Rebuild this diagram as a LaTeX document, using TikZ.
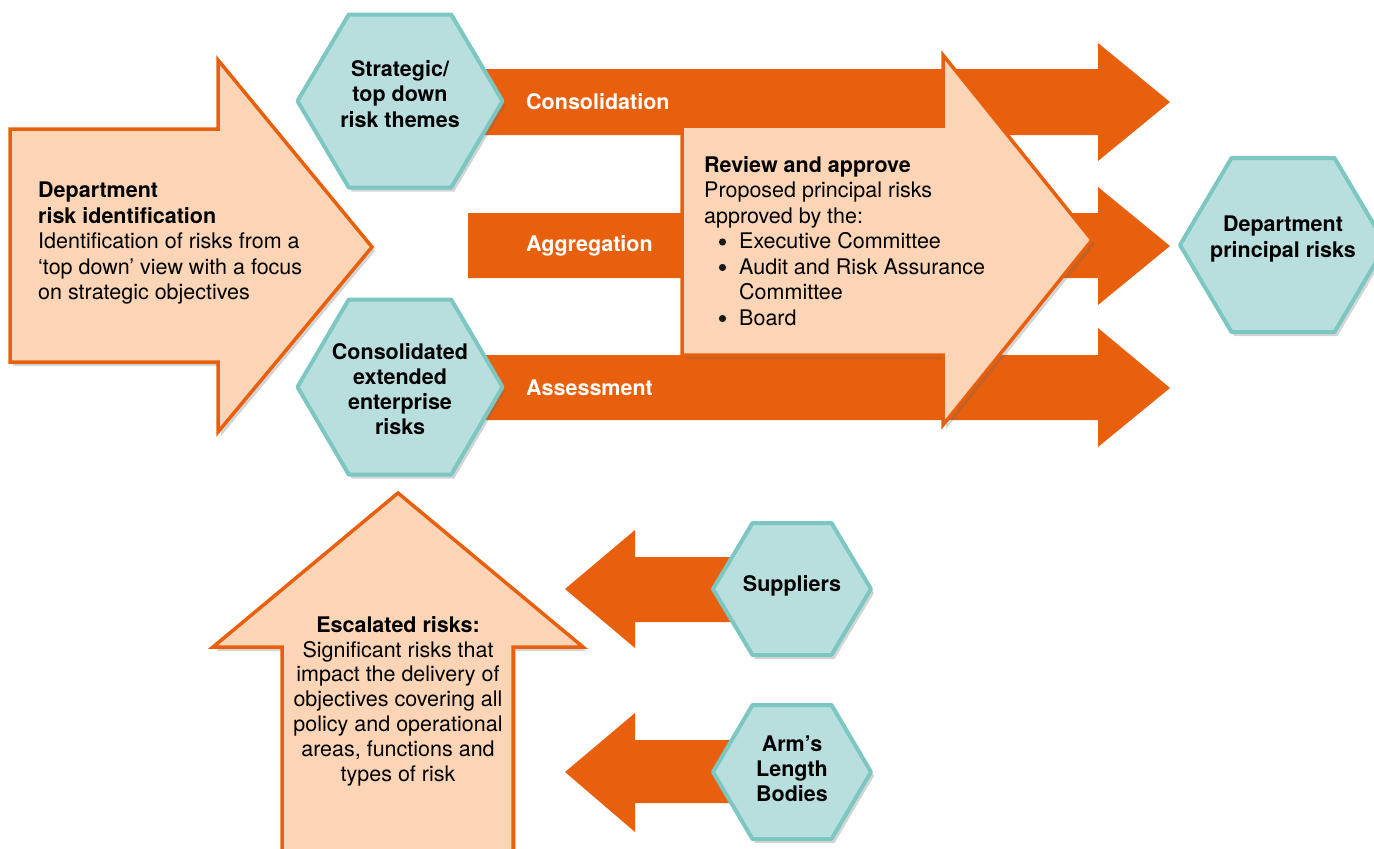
\documentclass[tikz,border=0pt]{standalone}
\usepackage{fontspec}
\setmainfont{TeX Gyre Heros}
\usetikzlibrary{shadows}
\definecolor{orng}{HTML}{E8600E}
\definecolor{peach}{HTML}{FBD5B5}
\definecolor{tealfill}{HTML}{B8DFDE}
\definecolor{tealline}{HTML}{7CC7C1}
\tikzset{
  shade2/.style={drop shadow={opacity=0.28, shadow xshift=3pt, shadow yshift=-4pt, fill=black!60}},
  band/.style={fill=orng, draw=none},
  bigarrow/.style={fill=peach, draw=orng, line width=3.5pt, line join=miter, shade2},
  hexa/.style={fill=tealfill, draw=tealline, line width=4pt, line join=round, shade2},
  txt/.style={font=\fontsize{21.5}{25.5}\selectfont, inner sep=0pt},
  hextxt/.style={txt, font=\fontsize{21.5}{25.2}\selectfont\bfseries, align=center},
  bandtxt/.style={txt, font=\fontsize{21.5}{25}\selectfont\bfseries, text=white, anchor=west},
  dot/.style={fill=black!90, draw=none},
}
\newcommand\myhex[4]{% cx cy w h
  (#1-#3/2,#2) -- (#1-#3/4,#2-#4/2) -- (#1+#3/4,#2-#4/2) -- (#1+#3/2,#2) -- (#1+#3/4,#2+#4/2) -- (#1-#3/4,#2+#4/2) -- cycle}
\begin{document}
\begin{tikzpicture}[x=1pt,y=-1pt]
\useasboundingbox (0,0) rectangle (1374,849);

% horizontal bands
\path[band] (485,69) -- (1098,69) -- (1098,43) -- (1170,102) -- (1098,161) -- (1098,135) -- (485,135) -- cycle;
\path[band] (468,213) -- (1098,213) -- (1098,187) -- (1170,246) -- (1098,305) -- (1098,278) -- (468,278) -- cycle;
\path[band] (485,355) -- (1098,355) -- (1098,328) -- (1170,388) -- (1098,447) -- (1098,420) -- (485,420) -- cycle;
\node[bandtxt] (cons) at (526,102) {Consolidation};
\node[bandtxt] (aggr) at (526,246) {Aggregation};
\node[bandtxt] (asse) at (526,388) {Assessment};

% hexagons on the left of bands
\path[hexa] \myhex{400}{101}{205}{173};
\node[hextxt] (strat) at (400,94) {Strategic/\\top down\\risk themes};
\path[hexa] \myhex{400}{387}{205}{175};
\node[hextxt] (ext) at (400,389) {Consolidated\\extended\\enterprise\\risks};

% review arrow
\path[bigarrow] (682,126) -- (943,126) -- (943,55) -- (1092,240) -- (943,425) -- (943,355) -- (682,355) -- cycle;
\node[txt, anchor=north west, align=left] (review) at (704,156)
  {{\bfseries Review and approve}\\
   Proposed principal risks\\
   approved by the:\\
   \hspace*{35pt}Executive Committee\\
   \hspace*{35pt}Audit and Risk Assurance\\
   \hspace*{35pt}Committee\\
   \hspace*{35pt}Board};
\fill[dot] (722.5,242) circle (3.6);
\fill[dot] (722.5,267.5) circle (3.6);
\fill[dot] (722.5,318.5) circle (3.6);

% principal risks hexagon
\path[hexa] \myhex{1283}{245}{206}{174};
\node[hextxt] (princ) at (1283,239) {Department\\principal risks};

% left arrow
\path[bigarrow] (10,129) -- (218,129) -- (218,60) -- (372,247) -- (218,432) -- (218,362) -- (10,362) -- cycle;
\node[txt, anchor=north west, align=left] (ident) at (38,182)
  {{\bfseries Department}\\
   {\bfseries risk identification}\\
   Identification of risks from a\\
   `top down' view with a focus\\
   on strategic objectives};

% escalated up arrow
\path[bigarrow] (282,880) -- (282,647) -- (213,647) -- (398,493) -- (583,647) -- (513,647) -- (513,880) -- cycle;
\node[txt, align=center, font=\fontsize{21.5}{24.8}\selectfont] (esc) at (398,701)
  {{\bfseries Escalated risks:}\\
   Significant risks that\\
   impact the delivery of\\
   objectives covering all\\
   policy and operational\\
   areas, functions and\\
   types of risk};

% left-pointing arrows
\path[band] (745,557) -- (635,557) -- (635,530) -- (565,589) -- (635,648) -- (635,622) -- (745,622) -- cycle;
\path[band] (745,740) -- (635,740) -- (635,713) -- (565,772) -- (635,832) -- (635,803) -- (745,803) -- cycle;

\path[hexa] \myhex{792}{589}{158}{132};
\node[hextxt] (supp) at (792,586) {Suppliers};
\path[hexa] \myhex{792}{772}{158}{134};
\node[hextxt] (alb) at (792,769) {Arm's\\Length\\Bodies};
\end{tikzpicture}
\end{document}
